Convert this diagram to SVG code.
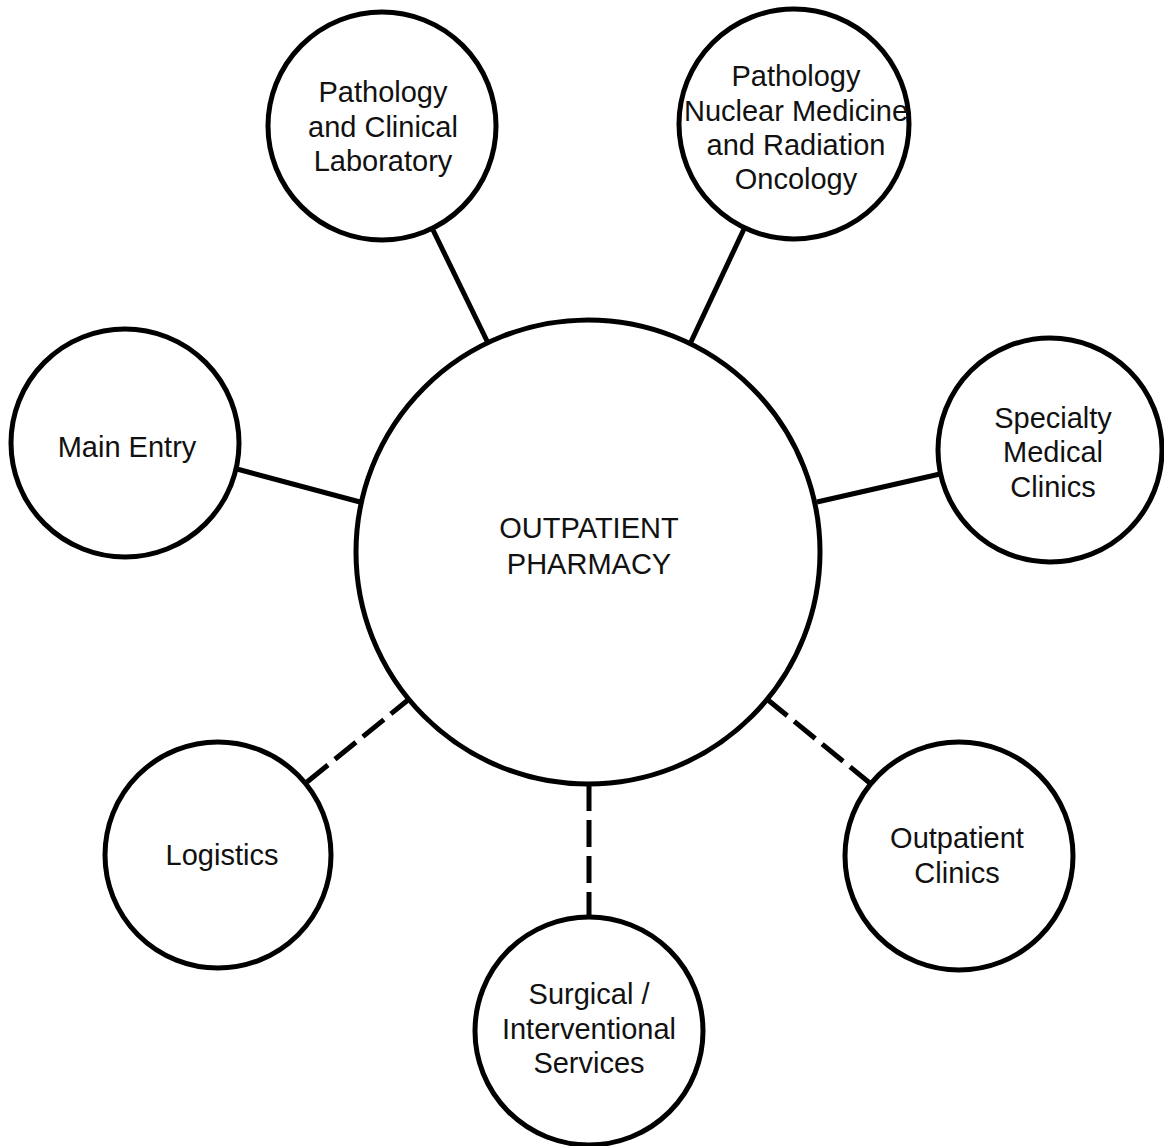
<svg xmlns="http://www.w3.org/2000/svg" width="1164" height="1146" viewBox="0 0 1164 1146">
<style>
.node{fill:#fff;stroke:#000;stroke-width:5}
.lbl{font-family:"Liberation Sans",Arial,sans-serif;font-size:29px;fill:#111;text-anchor:middle}
.edge{stroke:#000;stroke-width:5;fill:none}
.dash{stroke-dasharray:27 9}
</style>
<rect width="1164" height="1146" fill="#fff"/>
<g id="connectors">
<line class="edge" x1="433" y1="230" x2="488" y2="343"/>
<line class="edge" x1="744" y1="229" x2="690" y2="344"/>
<line class="edge" x1="237" y1="469" x2="360" y2="502"/>
<line class="edge" x1="940" y1="474" x2="817" y2="502"/>
<line class="edge dash" x1="307" y1="782" x2="408" y2="700"/>
<line class="edge dash" x1="871" y1="784" x2="768" y2="700"/>
<line class="edge dash" x1="589" y1="784" x2="589" y2="917"/>
</g>
<g id="center">
<circle class="node" cx="588" cy="552" r="232"/>
<text class="lbl" x="589" y="538">OUTPATIENT</text>
<text class="lbl" x="589" y="574">PHARMACY</text>
</g>
<g id="pathology-lab">
<circle class="node" cx="382" cy="126" r="114"/>
<text class="lbl" x="383" y="102">Pathology</text>
<text class="lbl" x="383" y="137">and Clinical</text>
<text class="lbl" x="383" y="171">Laboratory</text>
</g>
<g id="nuclear-medicine">
<circle class="node" cx="794" cy="124" r="115"/>
<text class="lbl" x="796" y="86">Pathology</text>
<text class="lbl" x="796" y="121">Nuclear Medicine</text>
<text class="lbl" x="796" y="155">and Radiation</text>
<text class="lbl" x="796" y="189">Oncology</text>
</g>
<g id="main-entry">
<circle class="node" cx="125" cy="443" r="114"/>
<text class="lbl" x="127" y="457">Main Entry</text>
</g>
<g id="specialty">
<circle class="node" cx="1050" cy="450" r="112"/>
<text class="lbl" x="1053" y="428">Specialty</text>
<text class="lbl" x="1053" y="462">Medical</text>
<text class="lbl" x="1053" y="497">Clinics</text>
</g>
<g id="logistics">
<circle class="node" cx="218" cy="855" r="113"/>
<text class="lbl" x="222" y="865">Logistics</text>
</g>
<g id="outpatient-clinics">
<circle class="node" cx="959" cy="856" r="114"/>
<text class="lbl" x="957" y="848">Outpatient</text>
<text class="lbl" x="957" y="883">Clinics</text>
</g>
<g id="surgical">
<circle class="node" cx="589" cy="1031" r="114"/>
<text class="lbl" x="589" y="1004">Surgical /</text>
<text class="lbl" x="589" y="1039">Interventional</text>
<text class="lbl" x="589" y="1073">Services</text>
</g>
</svg>
